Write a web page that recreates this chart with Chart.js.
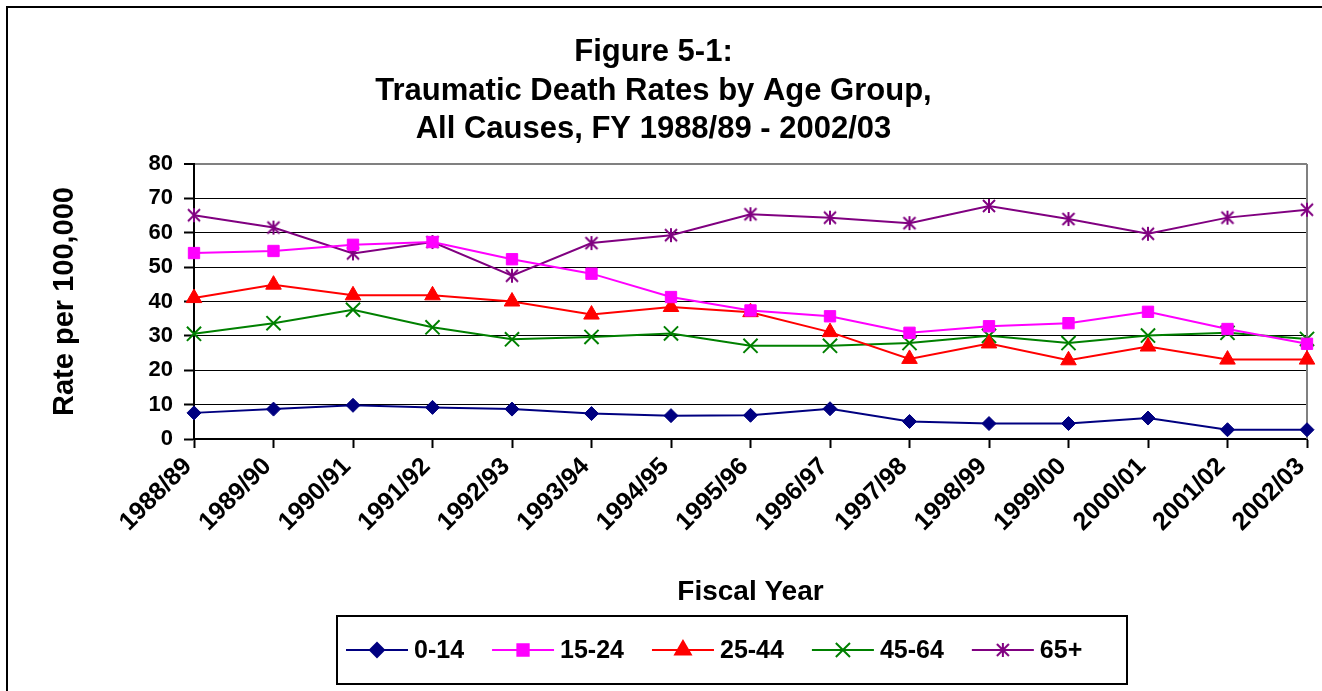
<!DOCTYPE html>
<html>
<head>
<meta charset="utf-8">
<title>Figure 5-1</title>
<script src="https://cdn.jsdelivr.net/npm/chart.js@4.4.1/dist/chart.umd.min.js"></script>
<style>
    html, body { margin: 0; padding: 0; background: #fff; }
    #wrap { width: 1322px; height: 691px; }
</style>
</head>
<body>
<div id="wrap"><canvas id="traumaChart" width="1322" height="691"></canvas></div>
<script>
const fiscalYears = ['1988/89', '1989/90', '1990/91', '1991/92', '1992/93', '1993/94', '1994/95',
    '1995/96', '1996/97', '1997/98', '1998/99', '1999/00', '2000/01', '2001/02', '2002/03'];

const age0to14 = [7.6, 8.7, 9.8, 9.2, 8.7, 7.4, 6.8, 6.9, 8.8, 5.1, 4.5, 4.5, 6.1, 2.7, 2.7];
const age15to24 = [54.1, 54.7, 56.5, 57.3, 52.3, 48.1, 41.3, 37.4, 35.7, 30.9, 32.8, 33.7, 37.0, 32.0, 27.7];
const age25to44 = [41.0, 44.9, 41.8, 41.8, 40.0, 36.2, 38.4, 36.9, 31.1, 23.3, 27.8, 22.9, 26.9, 23.1, 23.1];
const age45to64 = [30.6, 33.7, 37.6, 32.5, 29.0, 29.7, 30.7, 27.1, 27.1, 27.9, 30.0, 27.9, 30.1, 30.9, 29.1];
const age65plus = [65.1, 61.5, 54.0, 57.3, 47.5, 57.0, 59.3, 65.4, 64.4, 62.8, 67.8, 64.0, 59.7, 64.4, 66.7];

const yTicks = [0, 10, 20, 30, 40, 50, 60, 70, 80];

const FONT = "'Liberation Sans', Arial, sans-serif";

// excel-style asterisk marker (vertical bar + X), no horizontal stroke
function asteriskMarker(color) {
    const c = document.createElement('canvas');
    c.width = 16;
    c.height = 16;
    const g = c.getContext('2d');
    g.strokeStyle = color;
    g.lineWidth = 2;
    g.beginPath();
    g.moveTo(8, 1); g.lineTo(8, 15);
    g.moveTo(2, 2); g.lineTo(14, 14);
    g.moveTo(14, 2); g.lineTo(2, 14);
    g.stroke();
    return c;
}

function series(label, data, color, pointStyle, radius) {
    return {
        label: label,
        data: data,
        borderColor: color,
        backgroundColor: color,
        pointBackgroundColor: color,
        pointBorderColor: color,
        pointStyle: pointStyle,
        pointRadius: radius,
        pointBorderWidth: pointStyle === 'crossRot' ? 2 : 1,
        borderWidth: 2,
        tension: 0,
        clip: false
    };
}

const frame = {
    id: 'frame',
    beforeDraw(chart) {
        const ctx = chart.ctx;
        ctx.save();
        ctx.fillStyle = '#fff';
        ctx.fillRect(0, 0, chart.width, chart.height);
        ctx.strokeStyle = '#000';
        ctx.lineWidth = 2;
        ctx.strokeRect(7, 7, chart.width + 20, chart.height + 20);
        ctx.restore();
    },
    beforeDatasetsDraw(chart) {
        const { ctx, chartArea } = chart;
        ctx.save();
        ctx.strokeStyle = '#808080';
        ctx.lineWidth = 2;
        ctx.beginPath();
        ctx.moveTo(chartArea.right, chartArea.top);
        ctx.lineTo(chartArea.right, chartArea.bottom);
        ctx.stroke();
        ctx.restore();
    }
};

const boxLegend = {
    id: 'boxLegend',
    afterDraw(chart) {
        const ctx = chart.ctx;
        const box = { left: 337, top: 616, width: 790, height: 68 };
        const cy = box.top + box.height / 2;
        ctx.save();
        ctx.strokeStyle = '#000';
        ctx.lineWidth = 2;
        ctx.strokeRect(box.left, box.top, box.width, box.height);
        ctx.font = 'bold 25px ' + FONT;
        ctx.textBaseline = 'middle';
        ctx.textAlign = 'left';
        let x = box.left + 9;
        chart.data.datasets.forEach((ds) => {
            ctx.strokeStyle = ds.borderColor;
            ctx.fillStyle = ds.borderColor;
            ctx.lineWidth = 2;
            ctx.beginPath();
            ctx.moveTo(x, cy);
            ctx.lineTo(x + 62, cy);
            ctx.stroke();
            if (Chart.helpers && Chart.helpers.drawPoint) {
                Chart.helpers.drawPoint(ctx, {
                    pointStyle: ds.pointStyle,
                    radius: ds.pointRadius,
                    borderWidth: ds.pointBorderWidth,
                    rotation: 0
                }, x + 31, cy);
            }
            ctx.fillStyle = '#000';
            ctx.fillText(ds.label, x + 68, cy + 1);
            x += 68 + ctx.measureText(ds.label).width + 28;
        });
        ctx.restore();
    }
};

new Chart(document.getElementById('traumaChart'), {
    type: 'line',
    data: {
        labels: fiscalYears,
        datasets: [
            series('0-14', age0to14, '#000080', 'rectRot', 7),
            series('15-24', age15to24, '#FF00FF', 'rect', 8),
            series('25-44', age25to44, '#FF0000', 'triangle', 9),
            series('45-64', age45to64, '#008000', 'crossRot', 10),
            series('65+', age65plus, '#800080', asteriskMarker('#800080'), 8)
        ]
    },
    options: {
        responsive: false,
        animation: false,
        layout: { padding: { left: 0, top: 0, right: 15, bottom: 82 } },
        plugins: {
            legend: { display: false },
            tooltip: { enabled: false },
            title: {
                display: true,
                text: ['Figure 5-1:', 'Traumatic Death Rates by Age Group,', 'All Causes, FY 1988/89 - 2002/03'],
                color: '#000',
                font: { family: FONT, size: 31, weight: 'bold', lineHeight: 1.242 },
                padding: { top: 33.5, bottom: 15 }
            }
        },
        scales: {
            x: {
                offset: false,
                grid: {
                    display: true,
                    drawOnChartArea: false,
                    drawTicks: true,
                    tickLength: 9,
                    tickColor: '#000',
                    tickWidth: 2
                },
                border: { color: '#000', width: 2 },
                ticks: {
                    color: '#000',
                    font: { family: FONT, size: 25, weight: 'bold' },
                    minRotation: 45,
                    maxRotation: 45,
                    autoSkip: false,
                    padding: 4,
                    labelOffset: -6
                },
                title: {
                    display: true,
                    text: 'Fiscal Year',
                    color: '#000',
                    font: { family: FONT, size: 28, weight: 'bold', lineHeight: 1.2 },
                    padding: { top: 0, bottom: 0 }
                },
                afterFit(scale) {
                    scale.height = 170;
                    scale.paddingLeft = 0;
                    scale.paddingRight = 0;
                }
            },
            y: {
                min: 0,
                max: 80,
                afterBuildTicks(scale) {
                    scale.ticks = yTicks.map((v) => ({ value: v }));
                },
                grid: {
                    color: (c) => (c.tick && c.tick.value === 80 ? '#808080' : '#000'),
                    lineWidth: (c) => (c.tick && c.tick.value === 80 ? 2 : 1),
                    tickColor: '#000',
                    tickLength: 10,
                    tickWidth: 2
                },
                border: { color: '#000', width: 2 },
                ticks: {
                    color: '#000',
                    font: { family: FONT, size: 22, weight: 'bold' },
                    padding: 11
                },
                title: {
                    display: true,
                    text: 'Rate per 100,000',
                    color: '#000',
                    font: { family: FONT, size: 29, weight: 'bold', lineHeight: 1.2 },
                    padding: { top: 48, bottom: 0 }
                },
                afterFit(scale) {
                    scale.width = 194;
                    scale.paddingTop = 0;
                    scale.paddingBottom = 0;
                }
            }
        }
    },
    plugins: [frame, boxLegend]
});
</script>
</body>
</html>
